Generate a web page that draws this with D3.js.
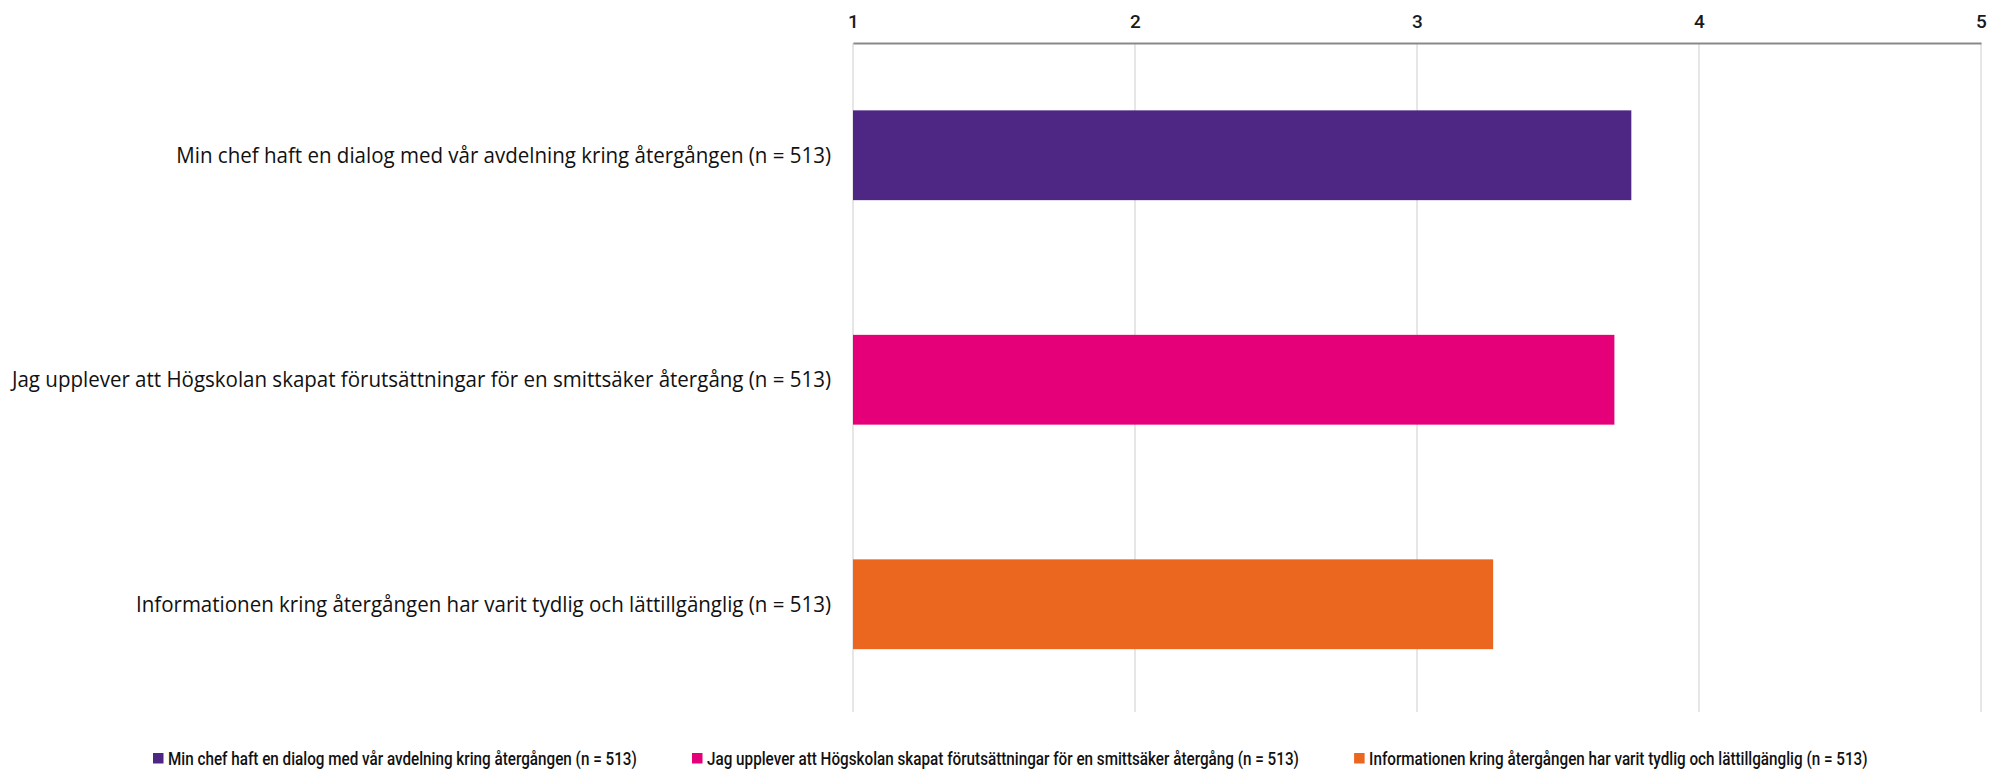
<!DOCTYPE html>
<html>
<head>
<meta charset="utf-8">
<script src="https://cdn.jsdelivr.net/npm/d3@7"></script>
<style>
  html, body { margin: 0; padding: 0; background: #fff; }
  svg { display: block; }
</style>
</head>
<body>
<svg id="chart" width="1998" height="769"></svg>
<script>
const categories = [
  "Min chef haft en dialog med vår avdelning kring återgången (n = 513)",
  "Jag upplever att Högskolan skapat förutsättningar för en smittsäker återgång (n = 513)",
  "Informationen kring återgången har varit tydlig och lättillgänglig (n = 513)"
];
const values = [3.76, 3.70, 3.27];
const tickValues = [1, 2, 3, 4, 5];
const colors = ["#4E2683", "#E5007A", "#EB661F"];

const svg = d3.select("#chart");
const plot = { left: 853, right: 1981, top: 43, bottom: 716.5 };

const x = d3.scaleLinear().domain([1, 5]).range([plot.left, plot.right]);
const y = d3.scaleBand().domain(categories).range([plot.top, plot.bottom])
  .paddingInner(0.6).paddingOuter(0.3);

// gridlines
svg.append("g").selectAll("line").data(tickValues).join("line")
  .attr("x1", d => x(d)).attr("x2", d => x(d))
  .attr("y1", plot.top).attr("y2", 712)
  .attr("stroke", "#d9d9d9").attr("stroke-width", 1.3);

// top axis
const axis = d3.axisTop(x).tickValues(tickValues).tickSize(0).tickPadding(15)
  .tickFormat(d3.format("d"));
const gAxis = svg.append("g").attr("transform", `translate(0,${plot.top})`).call(axis);
gAxis.select(".domain").attr("stroke", "#898989").attr("stroke-width", 2.2);
gAxis.selectAll("text")
  .attr("font-family", "Roboto, sans-serif")
  .attr("font-weight", 500)
  .attr("font-size", 19)
  .attr("fill", "#1a1a1a");

// bars
svg.append("g").selectAll("rect").data(categories).join("rect")
  .attr("x", x(1))
  .attr("y", d => y(d))
  .attr("width", (d, i) => x(values[i]) - x(1))
  .attr("height", y.bandwidth())
  .attr("fill", (d, i) => colors[i]);

// category labels (horizontally condensed via scale transform)
const labFont = "'Open Sans', sans-serif";
const labG = svg.append("g").selectAll("g").data(categories).join("g");
const labels = labG.append("text")
  .attr("x", 0).attr("y", 0)
  .attr("dy", "0.35em")
  .attr("text-anchor", "end")
  .attr("font-family", labFont)
  .attr("font-size", 21.5)
  .attr("fill", "#111")
  .text(d => d);
const fLab = 655 / labels.nodes()[0].getComputedTextLength();
labG.attr("transform", d => `translate(831,${y(d) + y.bandwidth() / 2}) scale(${fLab},1)`);

// legend
const legFont = "Roboto, sans-serif";
const leg = svg.append("g");
let lx = 153;
const legY = 765;
const tmp = leg.append("text").attr("font-family", legFont).attr("font-size", 19)
  .attr("font-weight", 500).text(categories[0]);
const fLeg = 469 / tmp.node().getComputedTextLength();
tmp.remove();
categories.forEach((c, i) => {
  leg.append("rect").attr("x", lx).attr("y", legY - 12).attr("width", 10.5).attr("height", 10.5)
    .attr("fill", colors[i]);
  const g = leg.append("g");
  const t = g.append("text").attr("x", 0).attr("y", 0)
    .attr("font-family", legFont).attr("font-size", 19).attr("font-weight", 500).attr("fill", "#111")
    .text(c);
  const w = t.node().getComputedTextLength() * fLeg;
  g.attr("transform", `translate(${lx + 15},${legY}) scale(${fLeg},1)`);
  lx = lx + 15 + w + 55;
});
</script>
</body>
</html>
